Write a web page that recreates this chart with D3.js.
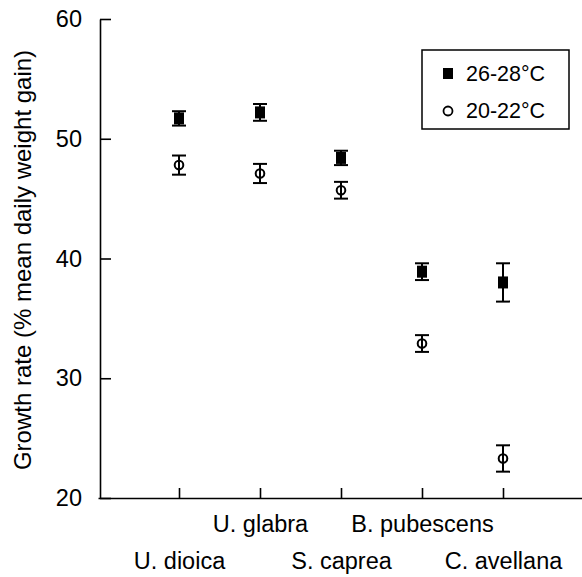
<!DOCTYPE html>
<html>
<head>
<meta charset="utf-8">
<script src="https://cdn.jsdelivr.net/npm/d3@7"></script>
<style>
  body { margin: 0; background: #fff; }
  svg { display: block; font-family: "Liberation Sans", Arial, sans-serif; }
</style>
</head>
<body>
<svg id="svg" width="582" height="577"></svg>
<script>
const WIDTH = 582
const HEIGHT = 577

const species = ['U. dioica', 'U. glabra', 'S. caprea', 'B. pubescens', 'C. avellana']
const hot = [51.7, 52.2, 48.4, 38.9, 38.0]
const hotErr = [0.6, 0.7, 0.6, 0.7, 1.6]
const cool = [47.8, 47.1, 45.7, 32.9, 23.3]
const coolErr = [0.8, 0.8, 0.7, 0.7, 1.1]
const yTicks = [20, 30, 40, 50, 60]
const seriesNames = ['26-28°C', '20-22°C']

const SVG = d3.select('#svg')

const x = d3.scaleLinear().domain([0, 6]).range([98, 584])
const y = d3.scaleLinear().domain([20, 60]).range([498, 19])

// y axis, ticks point inward
const Y_AXIS = SVG.append('g')
  .attr('transform', 'translate(100,0)')
  .call(d3.axisLeft(y).tickValues(yTicks).tickSizeInner(-11).tickSizeOuter(0).tickPadding(18))
Y_AXIS.selectAll('path, line').attr('stroke', '#000').attr('stroke-width', 1.6)
Y_AXIS.selectAll('text').attr('font-size', 23.5).attr('fill', '#000').attr('font-family', 'Liberation Sans, Arial, sans-serif')

// x axis
const X_AXIS = SVG.append('g')
  .attr('transform', `translate(0,${y(20)})`)
  .call(d3.axisBottom(x).tickValues([1, 2, 3, 4, 5]).tickSizeInner(-10).tickSizeOuter(0)
    .tickFormat(i => species[i - 1]))
X_AXIS.selectAll('path, line').attr('stroke', '#000').attr('stroke-width', 1.6)
X_AXIS.selectAll('text')
  .attr('font-size', 23.5)
  .attr('fill', '#000')
  .attr('font-family', 'Liberation Sans, Arial, sans-serif')
  .attr('dy', null)
  .attr('y', (d, i) => i % 2 === 1 ? 34 : 71)

SVG.append('text')
  .attr('transform', `translate(31,260) rotate(-90)`)
  .attr('text-anchor', 'middle')
  .attr('font-size', 24)
  .text('Growth rate (% mean daily weight gain)')

// error bars
function drawErrors(vals, errs) {
  const g = SVG.append('g').attr('stroke', '#000').attr('stroke-width', 2)
  vals.forEach((v, i) => {
    const cx = x(i + 1)
    g.append('line').attr('x1', cx).attr('x2', cx).attr('y1', y(v - errs[i])).attr('y2', y(v + errs[i]))
    g.append('line').attr('x1', cx - 7).attr('x2', cx + 7).attr('y1', y(v - errs[i])).attr('y2', y(v - errs[i]))
    g.append('line').attr('x1', cx - 7).attr('x2', cx + 7).attr('y1', y(v + errs[i])).attr('y2', y(v + errs[i]))
  })
}
drawErrors(hot, hotErr)
drawErrors(cool, coolErr)

SVG.selectAll('rect.hot')
  .data(hot)
  .enter()
  .append('rect')
  .attr('class', 'hot')
  .attr('x', (d, i) => x(i + 1) - 5)
  .attr('y', d => y(d) - 6)
  .attr('width', 10)
  .attr('height', 12)
  .attr('fill', '#000')

SVG.selectAll('circle.cool')
  .data(cool)
  .enter()
  .append('circle')
  .attr('class', 'cool')
  .attr('cx', (d, i) => x(i + 1))
  .attr('cy', d => y(d))
  .attr('r', 4.3)
  .attr('fill', 'none')
  .attr('stroke', '#000')
  .attr('stroke-width', 2)

// legend
const LEGEND = SVG.append('g')
LEGEND.append('rect')
  .attr('x', 422).attr('y', 50).attr('width', 147).attr('height', 79)
  .attr('fill', '#fff').attr('stroke', '#000').attr('stroke-width', 1.5)
LEGEND.append('rect').attr('x', 443).attr('y', 68).attr('width', 10).attr('height', 11).attr('fill', '#000')
LEGEND.append('circle').attr('cx', 448).attr('cy', 111).attr('r', 4.5)
  .attr('fill', '#fff').attr('stroke', '#000').attr('stroke-width', 1.8)
LEGEND.selectAll('text')
  .data(seriesNames)
  .enter()
  .append('text')
  .attr('x', 466)
  .attr('y', (d, i) => 81 + i * 37)
  .attr('font-size', 21.5)
  .text(d => d)
</script>
</body>
</html>
